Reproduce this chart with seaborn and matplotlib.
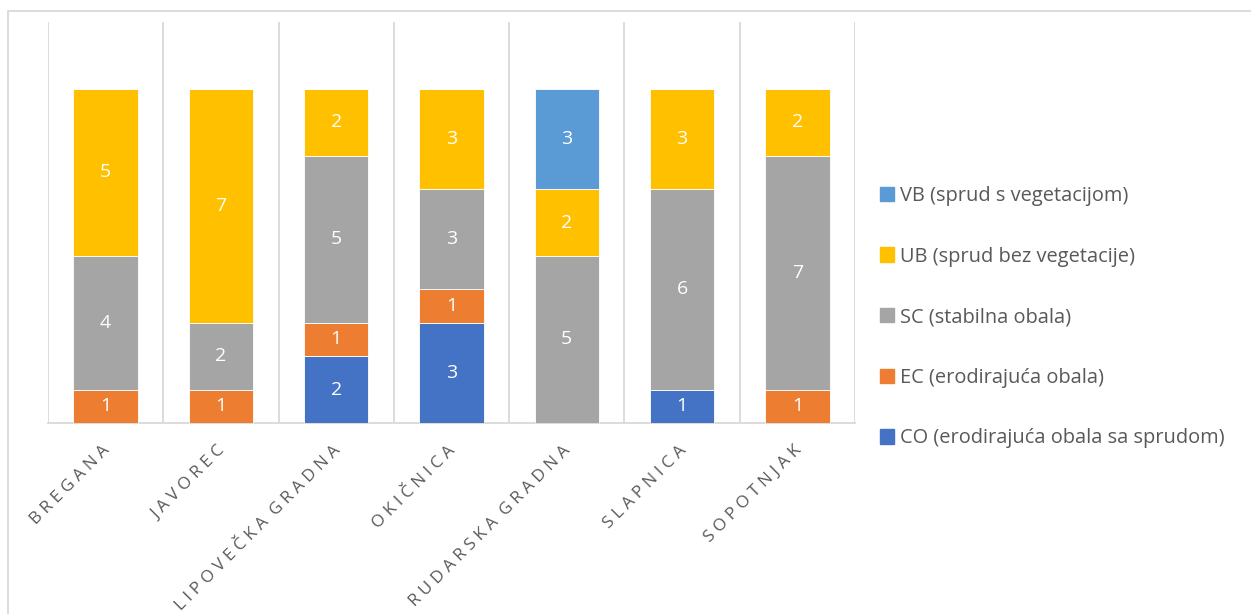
import numpy as np
import pandas as pd
import matplotlib
matplotlib.use("Agg")
import matplotlib.pyplot as plt
import matplotlib.patches as mpatches
import matplotlib.transforms as mtransforms
import seaborn as sns

sites = ["Bregana", "Javorec", "Lipovečka Gradna", "Okičnica",
         "Rudarska Gradna", "Slapnica", "Sopotnjak"]

co = [0, 0, 2, 3, 0, 1, 0]
ec = [1, 1, 1, 1, 0, 0, 1]
sc = [4, 2, 5, 3, 5, 6, 7]
ub = [5, 7, 2, 3, 2, 3, 2]
vb = [0, 0, 0, 0, 3, 0, 0]

series_names = ["CO (erodirajuća obala sa sprudom)", "EC (erodirajuća obala)",
                "SC (stabilna obala)", "UB (sprud bez vegetacije)",
                "VB (sprud s vegetacijom)"]
series_colors = ["#4472C4", "#ED7D31", "#A5A5A5", "#FFC000", "#5B9BD5"]

df = pd.DataFrame({"site": sites, "CO": co, "EC": ec, "SC": sc, "UB": ub, "VB": vb})

sns.set_style("white")
plt.rcParams["font.family"] = ["Open Sans", "DejaVu Sans"]
text_col = "#595959"
grid_col = "#D9D9D9"

fig = plt.figure(figsize=(12.51, 6.14), dpi=100)
ax = fig.add_axes([48 / 1251, 191 / 614, 807 / 1251, 401 / 614])

bottom = np.zeros(len(sites))
for col, name, color in zip(["CO", "EC", "SC", "UB", "VB"], series_names, series_colors):
    sns.barplot(data=df, x="site", y=col, color=color, saturation=1, width=0.56,
                bottom=bottom, errorbar=None, ax=ax, linewidth=0.6,
                edgecolor="white", zorder=3)
    cont = ax.containers[-1]
    labels = [str(v) if v > 0 else "" for v in df[col]]
    ax.bar_label(cont, labels=labels, label_type="center", color="white", fontsize=14)
    bottom = bottom + df[col].values

ax.set_ylim(0, 12)
ax.set_xlim(-0.5, len(sites) - 0.5)
ax.set_yticks([])
ax.set_xlabel("")
ax.set_ylabel("")

# category separators
ax.set_xticks(np.arange(-0.5, len(sites), 1), minor=True)
ax.grid(which="minor", axis="x", color=grid_col, lw=1.3, zorder=0)
ax.tick_params(axis="x", which="both", length=0)
ax.tick_params(axis="x", which="major", pad=14)

# letter-spaced upper-case category names
spaced = ["  ".join(" ".join(w) for w in s.upper().split(" ")) for s in sites]
ax.set_xticks(range(len(sites)))
ax.set_xticklabels(spaced, rotation=45, ha="right", rotation_mode="anchor",
                   fontsize=12.3, color=text_col)
shift = mtransforms.ScaledTranslation(-4 / 100, 0, fig.dpi_scale_trans)
for lab in ax.get_xticklabels():
    lab.set_transform(lab.get_transform() + shift)

for side in ["top", "left", "right"]:
    ax.spines[side].set_visible(False)
ax.spines["bottom"].set_color(grid_col)
ax.spines["bottom"].set_linewidth(1.3)

handles = [mpatches.Patch(color=c, label=n) for n, c in zip(series_names, series_colors)][::-1]
leg = fig.legend(handles=handles, loc="upper left", bbox_to_anchor=(862 / 1251, 1 - 168 / 614),
                 frameon=False, fontsize=14.4, labelcolor=text_col, handlelength=0.72,
                 handleheight=0.72, handletextpad=0.3, labelspacing=2.03)

# outer chart border
fig.patches.append(mpatches.Rectangle((8 / 1251, -0.1), 1.2, 1 - 11 / 614 + 0.1,
                                      transform=fig.transFigure, fill=False,
                                      edgecolor=grid_col, lw=1.3))

fig.savefig("out.png", dpi=100)
